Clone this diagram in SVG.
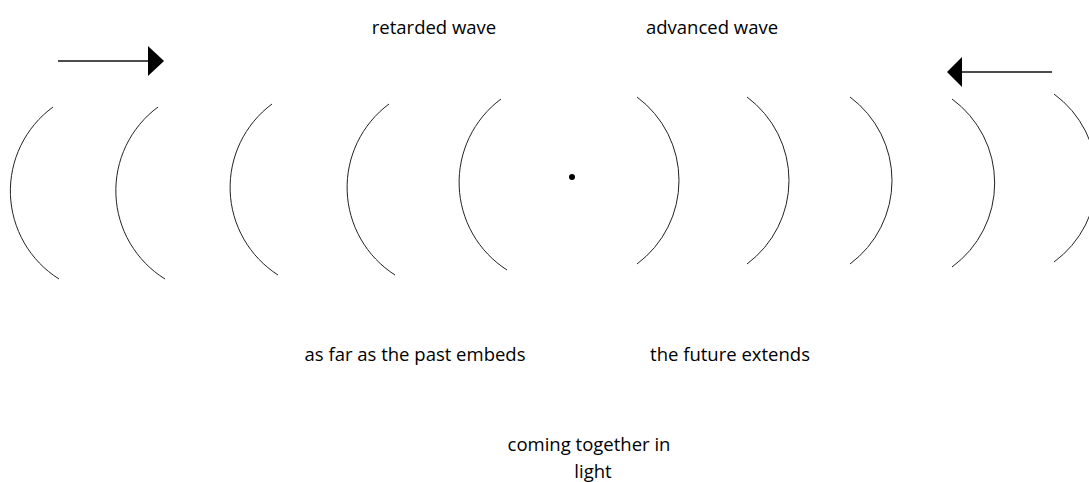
<svg xmlns="http://www.w3.org/2000/svg" width="1089" height="482" viewBox="0 0 1089 482">
<style>
.arc{fill:none;stroke:#222;stroke-width:1}
.lbl{font-family:"Open Sans","Noto Sans",sans-serif;font-size:18.5px;fill:#000;text-anchor:middle}
.arr{stroke:#111;stroke-width:1.5}
</style>
<rect width="1089" height="482" fill="#fff"/>
<g id="waves">
<path class="arc" d="M53,107 A104,104 0 0 0 59,279"/>
<path class="arc" d="M158,107 A104,104 0 0 0 165,279"/>
<path class="arc" d="M272,104 A104,104 0 0 0 278,275"/>
<path class="arc" d="M389,104 A104,104 0 0 0 395,275"/>
<path class="arc" d="M501,99 A104,104 0 0 0 507,270"/>
<path class="arc" d="M637,97 A104,104 0 0 1 637,264"/>
<path class="arc" d="M747,97 A104,104 0 0 1 747,264"/>
<path class="arc" d="M850,97 A104,104 0 0 1 850,264"/>
<path class="arc" d="M952,99 A104,104 0 0 1 952,267"/>
<path class="arc" d="M1054,94 A104,104 0 0 1 1054,262"/>
</g>
<g id="source"><circle cx="572" cy="177" r="3" fill="#000"/></g>
<g id="connectors">
<line class="arr" x1="58" y1="61" x2="150" y2="61"/>
<polygon points="148,46 164,61 148,76" fill="#000"/>
<line class="arr" x1="1052" y1="72" x2="960" y2="72"/>
<polygon points="947,72 962,57 962,87" fill="#000"/>
</g>
<g id="labels">
<text class="lbl" x="434" y="34">retarded wave</text>
<text class="lbl" x="712" y="34">advanced wave</text>
<text class="lbl" x="415" y="361">as far as the past embeds</text>
<text class="lbl" x="730" y="361">the future extends</text>
<text class="lbl" x="589" y="451">coming together in</text>
<text class="lbl" x="593" y="478">light</text>
</g>
</svg>
